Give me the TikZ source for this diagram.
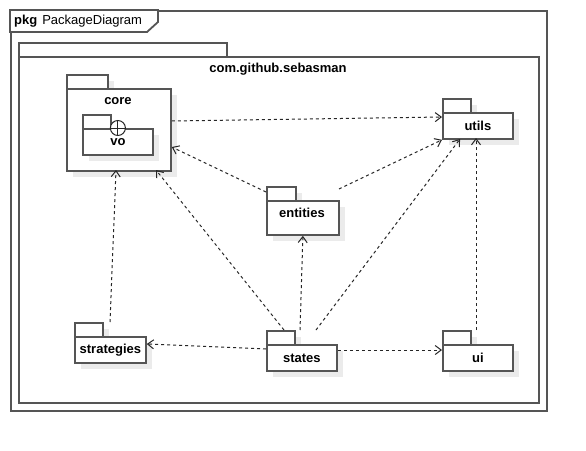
\documentclass[tikz,border=0pt]{standalone}
\usepackage{fontspec}
\setmainfont{Liberation Sans}
\usetikzlibrary{arrows.meta,shadows}
\definecolor{edge}{HTML}{555555}
\definecolor{shade}{HTML}{EBEBEB}
\begin{document}
\begin{tikzpicture}[x=1pt,y=-1pt,
  box/.style={draw=edge, line width=1.8pt, fill=white, inner sep=0pt,
    drop shadow={shadow xshift=6pt, shadow yshift=-6pt, fill=shade, opacity=1}},
  plain/.style={draw=edge, line width=1.8pt, fill=white, inner sep=0pt},
  lbl/.style={font=\fontsize{13}{15}\selectfont\bfseries, inner sep=0pt},
  dep/.style={draw=black!85, line width=1pt, dash pattern=on 3pt off 3pt,
    -{Straight Barb[length=6pt,width=9pt,line width=1pt]}}]
\useasboundingbox (0,0) rectangle (586,450);
% outer frame
\node[plain, anchor=north west, minimum width=536, minimum height=400] (frame) at (10,10) {};
\draw[draw=edge, line width=1.8pt, fill=white] (10,10) -- (158,10) -- (158,22) -- (147,32) -- (10,32) -- cycle;
\node[anchor=west, inner sep=0pt, font=\fontsize{13}{15}\selectfont] (ftitle) at (14,21) {\textbf{pkg}\hspace{5pt}PackageDiagram};
% main package
\node[plain, anchor=north west, minimum width=208, minimum height=14] (mainTab) at (18,42) {};
\node[plain, anchor=north west, minimum width=520, minimum height=346] (main) at (18,56) {};
\node[lbl] (mainL) at (278,69) {com.github.sebasman};
% core
\node[box, anchor=north west, minimum width=41, minimum height=14] (coreTab) at (66,74) {};
\node[box, anchor=north west, minimum width=104, minimum height=82] (core) at (66,88) {};
\node[lbl] (coreL) at (118,101) {core};
% vo
\node[box, anchor=north west, minimum width=28, minimum height=14] (voTab) at (82,114) {};
\node[box, anchor=north west, minimum width=70, minimum height=26, lbl] (vo) at (82,128) {vo};
\draw[draw=black!85, line width=1pt, fill=white] (vo.north) circle[radius=7.5pt];
\draw[draw=black!85, line width=1pt] ([xshift=-7.5pt]vo.north) -- ([xshift=7.5pt]vo.north)
  ([yshift=-7.5pt]vo.north) -- ([yshift=7.5pt]vo.north);
% utils
\node[box, anchor=north west, minimum width=28, minimum height=14] (utilsTab) at (442,98) {};
\node[box, anchor=north west, minimum width=70, minimum height=26, lbl] (utils) at (442,112) {utils};
% entities
\node[box, anchor=north west, minimum width=29, minimum height=14] (entTab) at (266,186) {};
\node[box, anchor=north west, minimum width=72, minimum height=34] (entities) at (266,200) {};
\node[lbl] (entL) at (302,213) {entities};
% strategies
\node[box, anchor=north west, minimum width=28, minimum height=14] (strTab) at (74,322) {};
\node[box, anchor=north west, minimum width=71, minimum height=26, lbl] (strategies) at (74,336) {strategies};
% states
\node[box, anchor=north west, minimum width=28, minimum height=14] (stTab) at (266,330) {};
\node[box, anchor=north west, minimum width=70, minimum height=26, lbl] (states) at (266,344) {states};
% ui
\node[box, anchor=north west, minimum width=28, minimum height=14] (uiTab) at (442,330) {};
\node[box, anchor=north west, minimum width=70, minimum height=26, lbl] (ui) at (442,344) {ui};
% dependencies
\draw[dep] (core.east |- 0,121) -- (utils.west |- 0,117);
\draw[dep] (entTab.west |- 0,192) -- (core.east |- 0,147);
\draw[dep] (339,189) -- (utils.south west);
\draw[dep] (284,330) -- (156,170);
\draw[dep] (300,330) -- (entities.south);
\draw[dep] (316,330) -- (460,139);
\draw[dep] (states.west |- 0,349) -- (strategies.east |- 0,344);
\draw[dep] (states.east |- 0,350) -- (ui.west |- 0,350);
\draw[dep] (110,322) -- (116,170);
\draw[dep] (476,330) -- (476,138);
\end{tikzpicture}
\end{document}
